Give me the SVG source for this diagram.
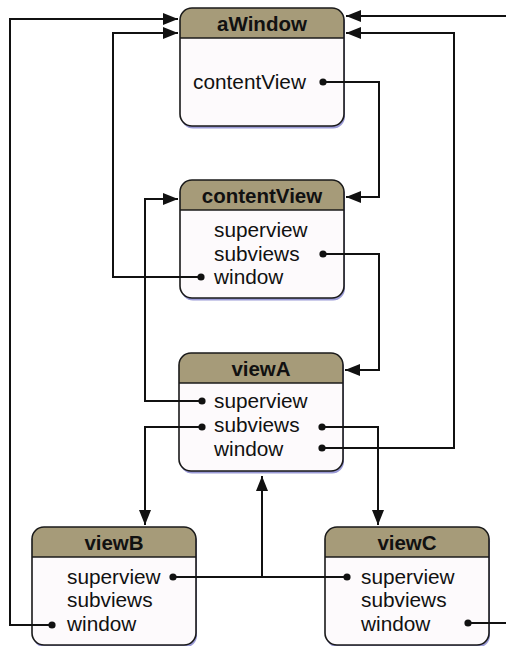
<svg xmlns="http://www.w3.org/2000/svg" xmlns:xlink="http://www.w3.org/1999/xlink" width="506" height="646" viewBox="0 0 506 646">
<style>
.body{fill:#fdfafc;}
.head{fill:#a69b79;}
.outline{fill:none;stroke:#1a1a1a;stroke-width:1.6;}
.shadow{fill:#9a9ad6;}
.title{font-family:"Liberation Sans",Arial,sans-serif;font-size:20.5px;font-weight:bold;fill:#111;text-anchor:middle;}
.item{font-family:"Liberation Sans",Arial,sans-serif;font-size:20.8px;fill:#111;}
.wire{fill:none;stroke:#111;stroke-width:2;}
.dot{fill:#111;}
</style>
<defs>
<marker id="arr" markerUnits="userSpaceOnUse" markerWidth="16" markerHeight="14" refX="15" refY="7" orient="auto">
<path d="M0,1 L15,7 L0,13 Z" fill="#111"/>
</marker>
<g id="box">
<rect x="1" y="2.5" width="164" height="118" rx="12" class="shadow"/>
<rect width="164" height="118" rx="12" class="body"/>
<path d="M0,30 V12 A12,12 0 0 1 12,0 H152 A12,12 0 0 1 164,12 V30 Z" class="head"/>
<line x1="0" y1="30" x2="164" y2="30" stroke="#1a1a1a" stroke-width="1.4"/>
<rect width="164" height="118" rx="12" class="outline"/>
</g>
</defs>

<g id="aWindow">
<use xlink:href="#box" href="#box" x="180" y="8"/>
<text class="title" x="262" y="31">aWindow</text>
<text class="item" x="193" y="89">contentView</text>
<circle class="dot" cx="323" cy="82" r="3.6"/>
</g>

<g id="contentView">
<use xlink:href="#box" href="#box" x="180" y="180"/>
<text class="title" x="262" y="203">contentView</text>
<text class="item" x="214" y="237">superview</text>
<text class="item" x="214" y="261">subviews</text>
<text class="item" x="214" y="284">window</text>
<circle class="dot" cx="323" cy="254" r="3.6"/>
<circle class="dot" cx="201" cy="277" r="3.6"/>
</g>

<g id="viewA">
<use xlink:href="#box" href="#box" x="179" y="353"/>
<text class="title" x="261" y="376">viewA</text>
<text class="item" x="214" y="408">superview</text>
<text class="item" x="214" y="432">subviews</text>
<text class="item" x="214" y="456">window</text>
<circle class="dot" cx="202" cy="401" r="3.6"/>
<circle class="dot" cx="202" cy="427" r="3.6"/>
<circle class="dot" cx="322" cy="427" r="3.6"/>
<circle class="dot" cx="322" cy="448" r="3.6"/>
</g>

<g id="viewB">
<use xlink:href="#box" href="#box" x="32" y="527"/>
<text class="title" x="114" y="550">viewB</text>
<text class="item" x="67" y="584">superview</text>
<text class="item" x="67" y="607">subviews</text>
<text class="item" x="67" y="631">window</text>
<circle class="dot" cx="173" cy="577" r="3.6"/>
<circle class="dot" cx="52" cy="625" r="3.6"/>
</g>

<g id="viewC">
<use xlink:href="#box" href="#box" x="325" y="527"/>
<text class="title" x="407" y="550">viewC</text>
<text class="item" x="361" y="584">superview</text>
<text class="item" x="361" y="607">subviews</text>
<text class="item" x="361" y="631">window</text>
<circle class="dot" cx="347" cy="577" r="3.6"/>
<circle class="dot" cx="468" cy="623" r="3.6"/>
</g>

<g id="connectors">
<polyline class="wire" points="323,82 379,82 379,197 346,197" marker-end="url(#arr)"/>
<polyline class="wire" points="323,254 379,254 379,370 345,370" marker-end="url(#arr)"/>
<polyline class="wire" points="201,277 113,277 113,33 178,33" marker-end="url(#arr)"/>
<polyline class="wire" points="202,401 145,401 145,199 178,199" marker-end="url(#arr)"/>
<polyline class="wire" points="202,427 145,427 145,525" marker-end="url(#arr)"/>
<polyline class="wire" points="322,427 378,427 378,525" marker-end="url(#arr)"/>
<polyline class="wire" points="322,448 454,448 454,33 346,33" marker-end="url(#arr)"/>
<polyline class="wire" points="173,577 347,577"/>
<polyline class="wire" points="262,577 262,476" marker-end="url(#arr)"/>
<polyline class="wire" points="52,625 10,625 10,19 178,19" marker-end="url(#arr)"/>
<polyline class="wire" points="468,623 508,623"/>
<polyline class="wire" points="508,16 346,16" marker-end="url(#arr)"/>
</g>
</svg>
